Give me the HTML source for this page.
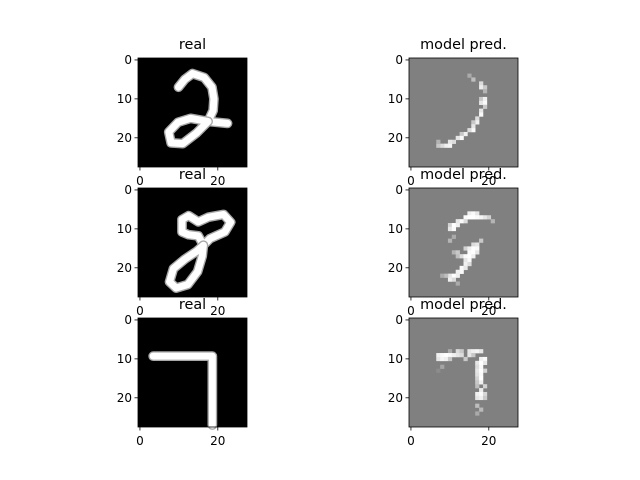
<!DOCTYPE html>
<html><head><meta charset="utf-8"><style>
html,body{margin:0;padding:0;background:#fff;width:640px;height:480px;overflow:hidden}
svg{display:block;font-family:"DejaVu Sans","Liberation Sans",sans-serif}
</style></head><body>
<svg id="fig" width="640" height="480" viewBox="0 0 640 480"></svg>
<script>
// Data: strokes for real digits (col,row points), cells for predictions [col,row,brightness]
const realStrokes = [
  [[[9.9,7],[11.5,5],[13.5,3.5],[16.5,4.5],[18.5,7],[19,10],[18.8,13],[17.5,15.8],[22.5,16.3]],
   [[17.5,15.8],[14.5,18.8],[11,21.5],[8,21.3],[7.4,18.5],[9.8,16],[13,15],[17.5,15.8]]],
  [[[10.8,10.8],[10.8,7.6],[12.5,6.6],[15,8.2],[17.6,7],[21.5,6.3],[23.3,8.3],[21.8,10.8],[18,12.5],[16.3,14.2],[15,11.8],[12.5,11.5],[10.8,10.8]],
   [[16.3,14.2],[14.5,15.8],[11.5,17.8],[8.6,20.2],[7.6,23.6],[9.3,25.2],[12.3,24.3],[14.8,21],[16,17],[16.3,14.2]]],
  [[[3.4,9.3],[18.6,9.3],[18.6,27]]]
];
const predCells = [
  [[15,4,170],[16,5,190],[18,6,220],[18,7,235],[19,7,200],[19,8,180],[18,10,200],[19,10,240],[18,11,230],[19,11,250],[19,12,200],[18,13,230],[18,14,250],[17,15,220],[17,16,240],[16,16,200],[16,17,230],[16,18,250],[15,18,220],[14,19,240],[13,19,200],[13,20,250],[12,20,230],[11,21,220],[10,21,230],[10,22,245],[9,22,240],[8,22,220],[7,22,200],[7,21,180]],
  [[15,6,240],[16,6,250],[17,6,230],[14,7,250],[15,7,255],[16,7,255],[17,7,250],[18,7,245],[19,7,230],[20,7,210],[21,8,180],[12,8,230],[13,8,250],[14,8,220],[10,9,210],[11,9,255],[12,9,240],[10,10,230],[11,10,250],[11,12,170],[10,13,180],[16,14,220],[17,14,230],[18,13,200],[14,15,210],[15,15,240],[16,15,255],[17,15,250],[11,16,180],[12,16,200],[15,16,250],[16,16,255],[17,16,230],[12,17,190],[13,17,220],[14,17,250],[15,17,255],[16,17,240],[14,18,230],[15,18,250],[14,19,240],[15,19,220],[13,20,250],[14,20,230],[12,21,240],[13,21,250],[10,22,230],[11,22,255],[12,22,240],[9,22,190],[8,22,170],[10,23,240],[11,23,220],[12,24,170]],
  [[10,8,170],[12,8,220],[13,8,200],[15,8,230],[16,8,240],[17,8,245],[18,8,230],[7,9,240],[8,9,250],[9,9,255],[10,9,250],[11,9,240],[12,9,230],[13,9,220],[15,9,230],[16,9,200],[7,10,230],[8,10,245],[9,10,240],[10,10,200],[14,10,200],[18,10,240],[19,10,250],[17,11,230],[18,11,255],[19,11,230],[17,12,220],[18,12,250],[17,13,230],[18,13,255],[19,13,210],[17,14,225],[18,14,250],[17,15,210],[18,15,255],[17,16,200],[18,16,240],[17,17,190],[19,17,210],[18,18,235],[17,19,240],[18,19,250],[19,19,215],[17,20,230],[18,20,240],[19,20,200],[8,12,165],[7,13,140],[17,22,190],[18,23,185],[17,24,170]]
];
const tickVals = [0,10,20];
const xTickVals = [0,20];
const titles = ["real","model pred."];
const NS="http://www.w3.org/2000/svg";
const svg=document.getElementById('fig');
function mk(t,a,p){const e=document.createElementNS(NS,t);for(const k in a)e.setAttribute(k,a[k]);(p||svg).appendChild(e);return e;}
const S=109, U=S/28;
const lefts=[138,409], tops=[58,188,318];
for(let r=0;r<3;r++){for(let c=0;c<2;c++){
  const x0=lefts[c], y0=tops[r];
  const g=mk('g',{});
  
  
  const px=v=>x0+(v+0.5)*U, py=v=>y0+(v+0.5)*U;
  mk('rect',{x:x0,y:y0,width:S,height:S,fill:c===0?'#000':'#808080'},g);
  if(c===0){
    realStrokes[r].forEach(s=>{
      const pts=s.map(p=>px(p[0])+','+py(p[1])).join(' ');
      mk('polyline',{points:pts,fill:'none',stroke:'#a8a8a8','stroke-width':U*2.5,'stroke-linejoin':'round','stroke-linecap':'round'},g);
      mk('polyline',{points:pts,fill:'none',stroke:'#fff','stroke-width':U*1.8,'stroke-linejoin':'round','stroke-linecap':'round'},g);
    });
  } else {
    predCells[r].forEach(d=>{
      const cell=mk('rect',{x:x0+d[0]*U,y:y0+d[1]*U,width:U+0.3,height:U+0.3,fill:`rgb(${d[2]},${d[2]},${d[2]})`},g);
      
      
    });
  }
  mk('rect',{x:x0,y:y0,width:S,height:S,fill:'none',stroke:'#000','stroke-width':0.8},g);
  tickVals.forEach(v=>{
    mk('line',{x1:x0-3.5,x2:x0,y1:py(v),y2:py(v),stroke:'#000','stroke-width':0.8},g);
    const t=mk('text',{x:x0-6,y:py(v)+4.3,'font-size':12,'text-anchor':'end'},g);t.textContent=v;
    
    
  });
  xTickVals.forEach(v=>{
    mk('line',{x1:px(v),x2:px(v),y1:y0+S,y2:y0+S+3.5,stroke:'#000','stroke-width':0.8},g);
    const t=mk('text',{x:px(v),y:y0+S+18,'font-size':12,'text-anchor':'middle'},g);t.textContent=v;
    
    
  });
  const tt=mk('text',{x:x0+S/2,y:y0-9,'font-size':14.4,'text-anchor':'middle'},g);tt.textContent=titles[c];
  
  
}}
</script>
</body></html>
